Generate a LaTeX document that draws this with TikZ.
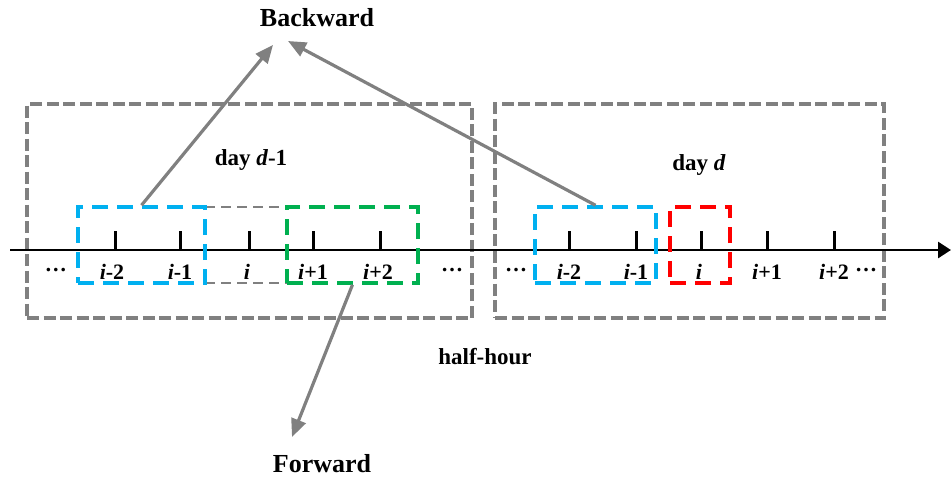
\documentclass[tikz,border=0pt]{standalone}
\usepackage{fontspec}
\setmainfont{Liberation Serif}
\usetikzlibrary{arrows.meta}
\definecolor{bgray}{HTML}{808080}
\definecolor{bblue}{HTML}{00B0F0}
\definecolor{bgreen}{HTML}{00B050}
\definecolor{bred}{HTML}{FF0000}
\tikzset{
  dbox/.style={draw=#1, line width=3.5pt, dash pattern=on 16pt off 9pt, minimum width=0pt, minimum height=0pt, inner sep=0pt},
  gbox/.style={draw=bgray, line width=3.5pt, dash pattern=on 12pt off 4.5pt, inner sep=0pt},
  big/.style={font=\fontsize{26}{30}\selectfont\bfseries},
  mid/.style={font=\fontsize{23}{27}\selectfont\bfseries},
  tl/.style={font=\fontsize{22}{26}\selectfont\bfseries, inner sep=0pt},
  conn/.style={draw=bgray, line width=3.2pt, -{Triangle[length=18pt,width=15pt]}},
  tick/.style={line width=3pt}
}
\begin{document}
\begin{tikzpicture}[x=1pt,y=-1pt]
\useasboundingbox (0,0) rectangle (951,480);
% big day boxes
\node[gbox, minimum width=445pt, minimum height=214pt] (dayL) at (249.5,211) {};
\node[gbox, minimum width=389pt, minimum height=214pt] (dayR) at (689.5,211) {};
% gray thin dashed box (i on day d-1)
\draw[draw=bgray, line width=2pt, dash pattern=on 10pt off 6pt] (205,207) -- (287,207) (205,283) -- (287,283);
% axis
\coordinate (ax0) at (10,250);
\coordinate (ax1) at (951,250);
\draw[line width=2.8pt, -{Triangle[length=13pt,width=16pt]}] (ax0) -- (ax1);
% ticks
\foreach \x in {115,180,249,313,380,569,636,701,767,834}
  \draw[tick] (\x,250) -- (\x,231);
% small boxes
\node[dbox=bblue, minimum width=127pt, minimum height=76pt] (blueL) at (141.5,245) {};
\node[dbox=bgreen, minimum width=131pt, minimum height=76pt] (greenL) at (352.5,245) {};
\node[dbox=bblue, minimum width=121pt, minimum height=76pt] (blueR) at (595.5,245) {};
\node[dbox=bred, minimum width=60pt, minimum height=76pt] (redR) at (700,245) {};
% labels left
\node[tl] (dl) at (56,270) {…};
\node[tl] (l1) at (112,272) {\textit{i}-2};
\node[tl] (l2) at (180,272) {\textit{i}-1};
\node[tl] (l3) at (247,272) {\textit{i}};
\node[tl] (l4) at (313,272) {\textit{i}+1};
\node[tl] (l5) at (378,272) {\textit{i}+2};
\node[tl] (dr) at (452,270) {…};
% labels right
\node[tl] (dl2) at (516,270) {…};
\node[tl] (r1) at (569,272) {\textit{i}-2};
\node[tl] (r2) at (636,272) {\textit{i}-1};
\node[tl] (r3) at (699,272) {\textit{i}};
\node[tl] (r4) at (767,272) {\textit{i}+1};
\node[tl] (r5) at (834,272) {\textit{i}+2};
\node[tl] (dr2) at (866,270) {…};
% texts
\node[mid] (dayd1) at (251,160) {day \textit{d}-1};
\node[mid] (dayd) at (699,165) {day \textit{d}};
\node[big] (bw) at (317,18) {Backward};
\node[big] (fw) at (322,464) {Forward};
\node[mid] (hh) at (485,357) {half-hour};
% arrows
\coordinate (bwA) at (273,45);
\coordinate (bwB) at (288,41);
\coordinate (fwA) at (292,437);
\draw[conn] (blueL.north) -- (bwA);
\draw[conn] (blueR.north) -- (bwB);
\draw[conn] (greenL.south) -- (fwA);
\end{tikzpicture}
\end{document}
